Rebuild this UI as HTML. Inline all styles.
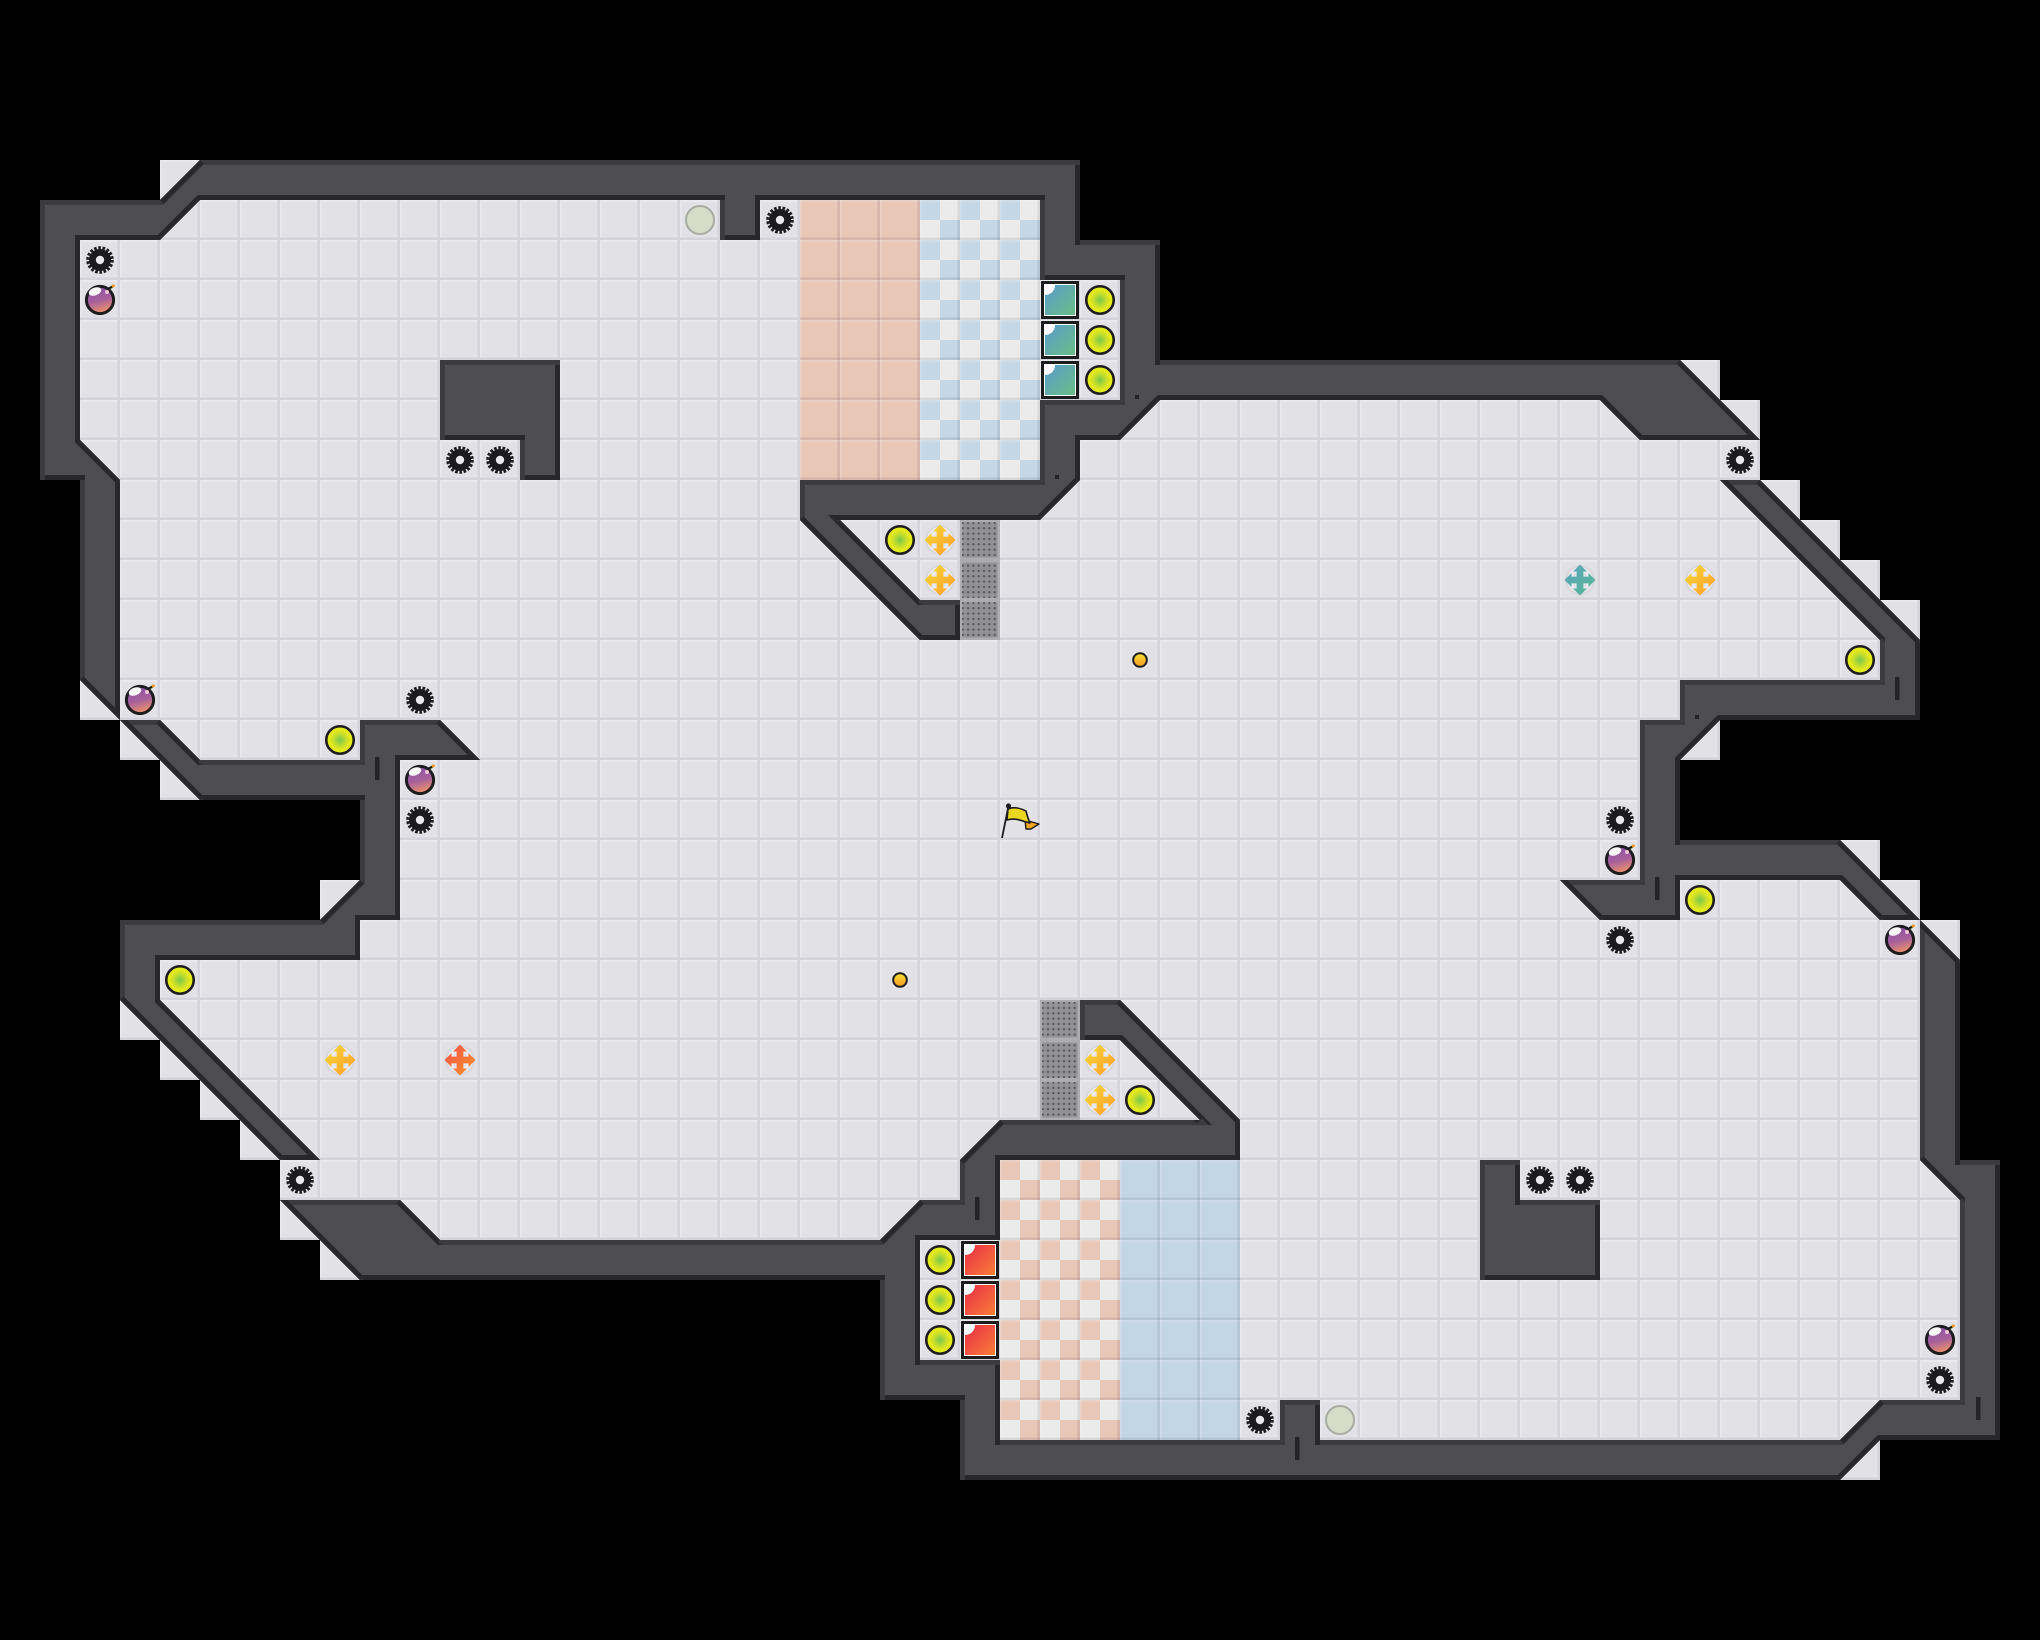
<!DOCTYPE html>
<html>
<head>
<meta charset="utf-8">
<title>Map</title>
<style>
html,body{margin:0;padding:0;background:#000;}
svg{display:block;}
</style>
</head>
<body>
<svg xmlns="http://www.w3.org/2000/svg" width="2040" height="1640" viewBox="0 0 2040 1640">
<defs>
  <pattern id="t" width="40" height="40" patternUnits="userSpaceOnUse">
    <rect width="40" height="40" fill="#e1e1e6"/>
    <rect width="40" height="2" fill="#eaeaee"/>
    <rect width="2" height="40" fill="#e8e8ec"/>
    <rect y="37.5" width="40" height="2.5" fill="#d3d3d9"/>
    <rect x="37.5" width="2.5" height="40" fill="#d3d3d9"/>
  </pattern>
  <pattern id="b" width="40" height="40" patternUnits="userSpaceOnUse">
    <rect width="40" height="2" fill="#fff" fill-opacity=".18"/>
    <rect width="2" height="40" fill="#fff" fill-opacity=".13"/>
    <rect y="37.5" width="40" height="2.5" fill="#000" fill-opacity=".08"/>
    <rect x="37.5" width="2.5" height="40" fill="#000" fill-opacity=".08"/>
  </pattern>
  <pattern id="cb" width="40" height="40" patternUnits="userSpaceOnUse">
    <rect width="40" height="40" fill="#ebebec"/>
    <rect width="20" height="20" fill="#c3d7e7"/>
    <rect x="20" y="20" width="20" height="20" fill="#c3d7e7"/>
  </pattern>
  <pattern id="cp" width="40" height="40" patternUnits="userSpaceOnUse">
    <rect width="40" height="40" fill="#ebebec"/>
    <rect width="20" height="20" fill="#e8c6b8"/>
    <rect x="20" y="20" width="20" height="20" fill="#e8c6b8"/>
  </pattern>
  <pattern id="dots" x="1040" y="1000" width="5.33" height="5.33" patternUnits="userSpaceOnUse">
    <circle cx="2.66" cy="2.66" r="1.2" fill="#58585c"/>
  </pattern>
  <clipPath id="fc" transform="scale(40)">
    <path d="M1 5L4 5L5 4L27 4L27 6L29 6L29 9L42 9L44 11L44 12L48 16L48 18L43 18L42 19L42 21L46 21L48 23L49 24L49 29L50 29L50 36L47 36L46 37L24 37L24 35L22 35L22 32L9 32L7 30L7 29L3 25L3 23L8 23L9 22L9 20L5 20L3 18L2 17L2 12L1 12Z
    M4 4L5 4L4 5Z M2 17L3 18L2 18Z M3 18L4 19L3 19Z M4 19L5 20L4 20Z M8 22L9 22L8 23Z
    M3 25L4 26L3 26Z M4 26L5 27L4 27Z M5 27L6 28L5 28Z M6 28L7 29L6 29Z
    M7 30L8 31L7 31Z M8 31L9 32L8 32Z M47 36L47 37L46 37Z
    M42 9L43 9L43 10Z M43 10L44 10L44 11Z
    M44 12L45 12L45 13Z M45 13L46 13L46 14Z M46 14L47 14L47 15Z M47 15L48 15L48 16Z
    M43 18L43 19L42 19Z
    M46 21L47 21L47 22Z M47 22L48 22L48 23Z M48 23L49 23L49 24Z"/>
  </clipPath>
  <path id="W" d="M1 5L4 5L5 4L27 4L27 6L29 6L29 9L42 9L44 11L41 11L40 10L29 10L28 11L27 11L27 12L26 13L21 13L23 15L24 15L24 16L23 16L20 13L20 12L26 12L26 10L28 10L28 7L26 7L26 5L19 5L19 6L18 6L18 5L5 5L4 6L2 6L2 11L3 12L3 18L2 17L2 12L1 12Z
  M3 18L4 18L5 19L9 19L9 18L11 18L12 19L10 19L10 23L9 23L9 24L4 24L4 25L8 29L7 29L3 25L3 23L8 23L9 22L9 20L5 20Z
  M7 30L10 30L11 31L22 31L23 30L24 30L24 29L25 28L30 28L28 26L27 26L27 25L28 25L31 28L31 29L25 29L25 31L23 31L23 34L25 34L25 36L32 36L32 35L33 35L33 36L46 36L47 35L49 35L49 30L48 29L48 23L49 24L49 29L50 29L50 36L47 36L46 37L24 37L24 35L22 35L22 32L9 32Z
  M43 12L44 12L48 16L48 18L43 18L42 19L42 21L46 21L48 23L47 23L46 22L42 22L42 23L40 23L39 22L41 22L41 18L42 18L42 17L47 17L47 16Z
  M11 9L14 9L14 12L13 12L13 11L11 11Z
  M37 29L38 29L38 30L40 30L40 32L37 32Z"/>
  <clipPath id="wc"><use href="#W"/></clipPath>

  <linearGradient id="gBomb" x1="0.2" y1="0" x2="0.5" y2="1">
    <stop offset="0" stop-color="#8a4fb0"/><stop offset=".55" stop-color="#a8609a"/><stop offset="1" stop-color="#f0946a"/>
  </linearGradient>
  <radialGradient id="gGreen">
    <stop offset="0" stop-color="#72c84c"/><stop offset=".4" stop-color="#bedc30"/><stop offset=".75" stop-color="#e6ea1c"/><stop offset="1" stop-color="#e9ea1c"/>
  </radialGradient>
  <linearGradient id="gY" x1="0" y1="0" x2="1" y2="1">
    <stop offset="0" stop-color="#ffdc3c"/><stop offset="1" stop-color="#fb9a26"/>
  </linearGradient>
  <linearGradient id="gT" x1="0" y1="0" x2="1" y2="1">
    <stop offset="0" stop-color="#5aa4c0"/><stop offset="1" stop-color="#5ab792"/>
  </linearGradient>
  <linearGradient id="gO" x1="0" y1="0" x2="1" y2="1">
    <stop offset="0" stop-color="#f0504a"/><stop offset="1" stop-color="#fb942a"/>
  </linearGradient>
  <linearGradient id="gBlue" x1="0" y1="0" x2="1" y2="1">
    <stop offset="0" stop-color="#5a9acb"/><stop offset="1" stop-color="#68bf86"/>
  </linearGradient>
  <linearGradient id="gRed" x1="0" y1="0" x2="1" y2="1">
    <stop offset="0" stop-color="#e62c42"/><stop offset="1" stop-color="#fb7d3a"/>
  </linearGradient>
  <linearGradient id="gGold" x1="0" y1="0" x2="0" y2="1">
    <stop offset="0" stop-color="#f8e030"/><stop offset="1" stop-color="#f89a28"/>
  </linearGradient>

  <g id="gear">
    <circle r="11" fill="#1c1c1e"/>
    <circle r="12" fill="none" stroke="#1c1c1e" stroke-width="3.6" stroke-dasharray="2.6 1.59"/>
    <circle r="4.2" fill="#e8e8ec"/>
  </g>
  <g id="bomb">
    <circle r="13.6" fill="url(#gBomb)" stroke="#1c1c1e" stroke-width="3"/>
    <ellipse cx="-5" cy="-8.5" rx="6.5" ry="3.8" transform="rotate(-20 -5 -8.5)" fill="#fff"/>
    <circle cx="7" cy="-8" r="2" fill="#f0c8d8"/>
    <path d="M9 -11.5L12.5 -13.5" stroke="#1c1c1e" stroke-width="2.2" fill="none"/>
    <circle cx="13.3" cy="-14" r="1.6" fill="#f59a23"/>
  </g>
  <g id="green"><circle r="13.75" fill="url(#gGreen)" stroke="#1c1c1e" stroke-width="2.6"/></g>
  <g id="pale"><circle r="14" fill="#d5dcc8" stroke="#a9aba5" stroke-width="2"/></g>
  <path id="arrow" d="M-15.5 0L-8.5 -7L-8.5 -3.4L-3.4 -3.4L-3.4 -8.5L-7 -8.5L0 -15.5L7 -8.5L3.4 -8.5L3.4 -3.4L8.5 -3.4L8.5 -7L15.5 0L8.5 7L8.5 3.4L3.4 3.4L3.4 8.5L7 8.5L0 15.5L-7 8.5L-3.4 8.5L-3.4 3.4L-8.5 3.4L-8.5 7Z"/>
  <g id="cy"><circle r="14" fill="#e9e9ed" stroke="#d4d4da" stroke-width="1.6"/><use href="#arrow" fill="url(#gY)"/></g>
  <g id="ct"><circle r="14" fill="#e9e9ed" stroke="#d4d4da" stroke-width="1.6"/><use href="#arrow" fill="url(#gT)"/></g>
  <g id="co"><circle r="14" fill="#e9e9ed" stroke="#d4d4da" stroke-width="1.6"/><use href="#arrow" fill="url(#gO)"/></g>
  <g id="gray">
    <rect width="40" height="40" fill="#adadb0"/>
    <rect x="2.5" y="2.5" width="35" height="35" fill="#929296"/>
  </g>
  <g id="sqb">
    <rect x="1" y="1" width="38" height="38" fill="#1c1c1e"/>
    <rect x="4" y="4" width="32" height="32" fill="#fff"/>
    <rect x="5" y="5" width="30" height="30" fill="url(#gBlue)"/>
    <path d="M5 5L15 5A10 10 0 0 1 5 15Z" fill="#fff"/>
  </g>
  <g id="sqr">
    <rect x="1" y="1" width="38" height="38" fill="#1c1c1e"/>
    <rect x="4" y="4" width="32" height="32" fill="#fff"/>
    <rect x="5" y="5" width="30" height="30" fill="url(#gRed)"/>
    <path d="M5 5L15 5A10 10 0 0 1 5 15Z" fill="#fff"/>
  </g>
</defs>

<rect width="2040" height="1640" fill="#000"/>

<!-- floor -->
<rect width="2040" height="1640" fill="url(#t)" clip-path="url(#fc)"/>

<!-- coloured floors -->
<rect x="800" y="200" width="120" height="280" fill="#e8c6b8"/>
<rect x="800" y="200" width="120" height="280" fill="url(#b)"/>
<rect x="920" y="200" width="120" height="280" fill="url(#cb)"/>
<rect x="920" y="200" width="120" height="280" fill="url(#b)"/>
<rect x="1120" y="1160" width="120" height="280" fill="#c3d6e6"/>
<rect x="1120" y="1160" width="120" height="280" fill="url(#b)"/>
<rect x="1000" y="1160" width="120" height="280" fill="url(#cp)"/>
<rect x="1000" y="1160" width="120" height="280" fill="url(#b)"/>

<!-- walls -->
<g transform="scale(40)">
  <g clip-path="url(#wc)">
    <use href="#W" fill="#4d4d52"/>
    <use href="#W" fill="none" stroke="#28282c" stroke-width=".25"/>
    <g transform="translate(.0625 .0625)"><use href="#W" fill="none" stroke="#3a3a3f" stroke-width=".125"/></g>
    <path fill="none" stroke="#28282c" stroke-width=".25" d="M4 5L5 4M5 5L4 6M42 9L44 11M41 11L40 10M29 10L28 11M27 12L26 13M21 13L23 15M23 16L20 13M2 11L3 12M3 18L2 17M4 18L5 19M11 18L12 19M4 25L8 29M7 29L3 25M8 23L9 22M5 20L3 18M10 30L11 31M22 31L23 30M24 29L25 28M30 28L28 26M28 25L31 28M46 36L47 35M49 30L48 29M48 23L49 24M47 36L46 37M9 32L7 30M44 12L48 16M43 18L42 19M46 21L48 23M47 23L46 22M40 23L39 22M47 16L43 12"/>
  </g>
</g>

<!-- wall ticks -->
<g fill="#242428">
  <rect x="375" y="757" width="4.5" height="23"/>
  <rect x="975" y="1197" width="4.5" height="23"/>
  <rect x="1295" y="1437" width="4.5" height="23"/>
  <rect x="1976" y="1397" width="4.5" height="23"/>
  <rect x="1655" y="877" width="4.5" height="23"/>
  <rect x="1895" y="677" width="4.5" height="23"/>
  <rect x="1135" y="395" width="4" height="4"/>
  <rect x="1055" y="475" width="4" height="4"/>
  <rect x="1695" y="715" width="4" height="4"/>
</g>

<!-- gray textured tiles -->
<use href="#gray" x="960" y="520"/><use href="#gray" x="960" y="560"/><use href="#gray" x="960" y="600"/>
<use href="#gray" x="1040" y="1000"/><use href="#gray" x="1040" y="1040"/><use href="#gray" x="1040" y="1080"/>
<g fill="url(#dots)">
  <rect x="962" y="522" width="36" height="36"/><rect x="962" y="562" width="36" height="36"/><rect x="962" y="602" width="36" height="36"/>
  <rect x="1042" y="1002" width="36" height="36"/><rect x="1042" y="1042" width="36" height="36"/><rect x="1042" y="1082" width="36" height="36"/>
</g>

<!-- squares -->
<use href="#sqb" x="1040" y="280"/><use href="#sqb" x="1040" y="320"/><use href="#sqb" x="1040" y="360"/>
<use href="#sqr" x="960" y="1240"/><use href="#sqr" x="960" y="1280"/><use href="#sqr" x="960" y="1320"/>

<!-- gears -->
<use href="#gear" x="100" y="260"/><use href="#gear" x="780" y="220"/><use href="#gear" x="460" y="460"/><use href="#gear" x="500" y="460"/>
<use href="#gear" x="1740" y="460"/><use href="#gear" x="420" y="700"/><use href="#gear" x="420" y="820"/><use href="#gear" x="1620" y="820"/>
<use href="#gear" x="1620" y="940"/><use href="#gear" x="300" y="1180"/><use href="#gear" x="1540" y="1180"/><use href="#gear" x="1580" y="1180"/>
<use href="#gear" x="1940" y="1380"/><use href="#gear" x="1260" y="1420"/>

<!-- bombs -->
<use href="#bomb" x="100" y="300"/><use href="#bomb" x="140" y="700"/><use href="#bomb" x="420" y="780"/>
<use href="#bomb" x="1620" y="860"/><use href="#bomb" x="1900" y="940"/><use href="#bomb" x="1940" y="1340"/>

<!-- green orbs -->
<use href="#green" x="1100" y="300"/><use href="#green" x="1100" y="340"/><use href="#green" x="1100" y="380"/>
<use href="#green" x="900" y="540"/><use href="#green" x="1860" y="660"/><use href="#green" x="340" y="740"/>
<use href="#green" x="1700" y="900"/><use href="#green" x="180" y="980"/><use href="#green" x="1140" y="1100"/>
<use href="#green" x="940" y="1260"/><use href="#green" x="940" y="1300"/><use href="#green" x="940" y="1340"/>

<!-- pale orbs -->
<use href="#pale" x="700" y="220"/><use href="#pale" x="1340" y="1420"/>

<!-- crosses -->
<use href="#cy" x="940" y="540"/><use href="#cy" x="940" y="580"/><use href="#cy" x="1700" y="580"/>
<use href="#cy" x="340" y="1060"/><use href="#cy" x="1100" y="1060"/><use href="#cy" x="1100" y="1100"/>
<use href="#ct" x="1580" y="580"/><use href="#co" x="460" y="1060"/>

<!-- gold dots -->
<circle cx="1140" cy="660" r="6.8" fill="url(#gGold)" stroke="#1c1c1e" stroke-width="2"/>
<circle cx="900" cy="980" r="6.8" fill="url(#gGold)" stroke="#1c1c1e" stroke-width="2"/>

<!-- flag -->
<path d="M1025 820L1039 824L1031 829L1026 829Z" fill="#f5a623" stroke="#1c1c1e" stroke-width="1.4" stroke-linejoin="round"/>
<path d="M1008 809C1014 806 1022 809 1026 811C1027 815 1028 819 1030 823C1024 822 1016 817 1007 820Z" fill="#ecd61e" stroke="#1c1c1e" stroke-width="1.6" stroke-linejoin="round"/>
<path d="M1008.5 806L1002 838" stroke="#1c1c1e" stroke-width="1.8" fill="none"/>
<circle cx="1008.5" cy="806" r="2.6" fill="#1c1c1e"/>
</svg>
</body>
</html>
